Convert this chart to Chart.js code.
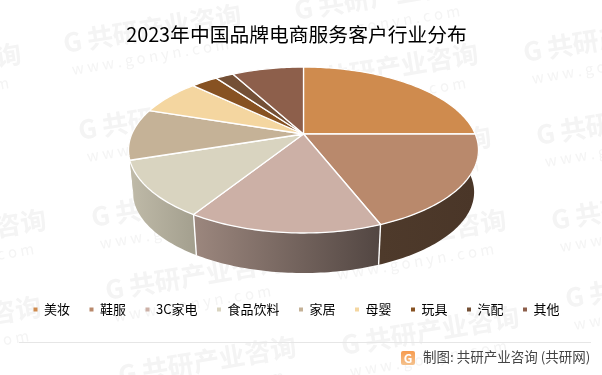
<!DOCTYPE html>
<html><head><meta charset="utf-8">
<style>html,body{margin:0;padding:0;background:#fff}canvas{display:block}</style>
<script src="https://cdn.jsdelivr.net/npm/chart.js@4/dist/chart.umd.js"></script>
</head><body>
<canvas id="c" width="602" height="375"></canvas>
<script>
const titleText = '2023年中国品牌电商服务客户行业分布';
const categories = ['美妆','鞋服','3C家电','食品饮料','家居','母婴','玩具','汽配','其他'];
const shares = [25,19,15,11,10,7,3,2,8];
const topColors = ['#CF8B4E','#B9896C','#CCB0A6','#D9D4C0','#C5B297','#F4D6A0','#875222','#745036','#8D5F4B'];
const wallLeft  = ['#4C3829','#4E3A2B','#9C877E','#BFBAA8','#C0BBA8','#C0BBA8','#875222','#745036','#8D5F4B'];
const wallRight = ['#4C3829','#4A3628','#524642','#A4A08F','#BFBAA8','#C0BBA8','#875222','#745036','#8D5F4B'];
const footerText = '制图: 共研产业咨询 (共研网)';
const markName = '共研产业咨询';
const markUrl = 'w w w . g o n y n . c o m';
const markOrigins = [[296,20],[-155,92],[65,53],[302,92],[525,62],[80,140],[315,175],[538,145],[-130,258],[93,227],[330,258],[553,230],[-135,345],[107,300],[343,355],[567,308],[120,385]];

const FONT = '"Noto Sans CJK SC","Noto Sans",sans-serif';
const view = {dx:7, cy:134, tiltP:0.193, squash:0.4653, wallScale:0.975, wallDrop:42.5};

function project(arc, t, lower){
  const u=Math.cos(t), v=Math.sin(t), w=1-view.tiltP*v;
  const R=arc.outerRadius, s=lower?view.wallScale:1;
  return [arc.x+view.dx+s*R*u/w, view.cy+s*R*view.squash*v/w+(lower?view.wallDrop:0)];
}
function trace(ctx, arc, a, b, lower, move){
  const n=Math.max(2,Math.ceil(Math.abs(b-a)/0.02));
  for(let i=0;i<=n;i++){
    const p=project(arc,a+(b-a)*i/n,lower);
    if(i===0&&move)ctx.moveTo(p[0],p[1]);else ctx.lineTo(p[0],p[1]);
  }
}
const pie3d={
  id:'pie3d',
  beforeDatasetDraw(chart,args){
    const ctx=chart.ctx, arcs=chart.getDatasetMeta(args.index).data;
    ctx.save();
    ctx.lineJoin='round';
    arcs.forEach((arc,i)=>{
      const a=Math.max(arc.startAngle,0), b=Math.min(arc.endAngle,Math.PI);
      if(b<=a)return;
      const p0=project(arc,a,false), p1=project(arc,b,false);
      const g=ctx.createLinearGradient(Math.min(p0[0],p1[0]),0,Math.max(p0[0],p1[0]),0);
      g.addColorStop(0,wallLeft[i]); g.addColorStop(1,wallRight[i]);
      ctx.beginPath();
      trace(ctx,arc,a,b,false,true);
      trace(ctx,arc,b,a,true,false);
      ctx.closePath();
      ctx.fillStyle=g; ctx.fill();
    });
    arcs.forEach((arc,i)=>{
      const a=arc.startAngle;
      if(a>0.1&&a<Math.PI*0.8){
        const t=project(arc,a,false), d=project(arc,a,true);
        ctx.beginPath();ctx.moveTo(t[0],t[1]);ctx.lineTo(d[0],d[1]);
        ctx.strokeStyle='#fff';ctx.lineWidth=1.4;ctx.stroke();
      }
    });
    arcs.forEach((arc,i)=>{
      ctx.beginPath();
      ctx.moveTo(arc.x+view.dx,view.cy);
      trace(ctx,arc,arc.startAngle,arc.endAngle,false,false);
      ctx.closePath();
      ctx.fillStyle=topColors[i];ctx.fill();
      ctx.strokeStyle='#fff';ctx.lineWidth=1.3;ctx.stroke();
    });
    ctx.restore();
    return false;
  }
};
const decor={
  id:'decor',
  beforeDraw(chart){
    const ctx=chart.ctx;
    ctx.save();
    ctx.fillStyle='#fff';ctx.fillRect(0,0,chart.width,chart.height);
    markOrigins.forEach(o=>{
      ctx.save();ctx.translate(o[0],o[1]);ctx.rotate(-0.165);
      ctx.fillStyle='#f4f4f4';
      ctx.font='bold 26px '+FONT;ctx.textBaseline='alphabetic';
      ctx.fillText('G',0,0);
      ctx.fillText(markName,24,0);
      ctx.font='15px '+FONT;
      ctx.fillText(markUrl,4,23);
      ctx.restore();
    });
    ctx.restore();
  },
  afterDraw(chart){
    const ctx=chart.ctx;
    ctx.save();
    ctx.strokeStyle='#e6e6e6';ctx.lineWidth=1;
    ctx.beginPath();ctx.moveTo(19,342.5);ctx.lineTo(591,342.5);ctx.stroke();
    const g=ctx.createLinearGradient(0,351,0,365);
    g.addColorStop(0,'#F79B4F');g.addColorStop(1,'#F4C28E');
    ctx.fillStyle=g;
    ctx.beginPath();ctx.roundRect(401,351,14,14,2);ctx.fill();
    ctx.fillStyle='#fff';ctx.font='bold 12px '+FONT;ctx.textAlign='center';ctx.textBaseline='middle';
    ctx.fillText('G',408,358);
    ctx.fillStyle='#444';ctx.font='13.5px '+FONT;ctx.textAlign='left';
    ctx.fillText(footerText,423,357);
    ctx.restore();
  }
};
new Chart(document.getElementById('c'),{
  type:'pie',
  data:{labels:categories,datasets:[{data:shares,backgroundColor:topColors,borderWidth:0,radius:171.7}]},
  options:{
    responsive:false,animation:false,
    layout:{padding:{top:0,bottom:49,left:0,right:9}},
    plugins:{
      tooltip:{enabled:false},
      title:{display:true,text:titleText,color:'#000',font:{family:FONT,size:19.8,weight:'normal'},padding:{top:23,bottom:8}},
      legend:{position:'bottom',labels:{boxWidth:4,boxHeight:4,padding:19.5,color:'#000',font:{family:FONT,size:13}}}
    }
  },
  plugins:[decor,pie3d]
});
</script>
</body></html>
